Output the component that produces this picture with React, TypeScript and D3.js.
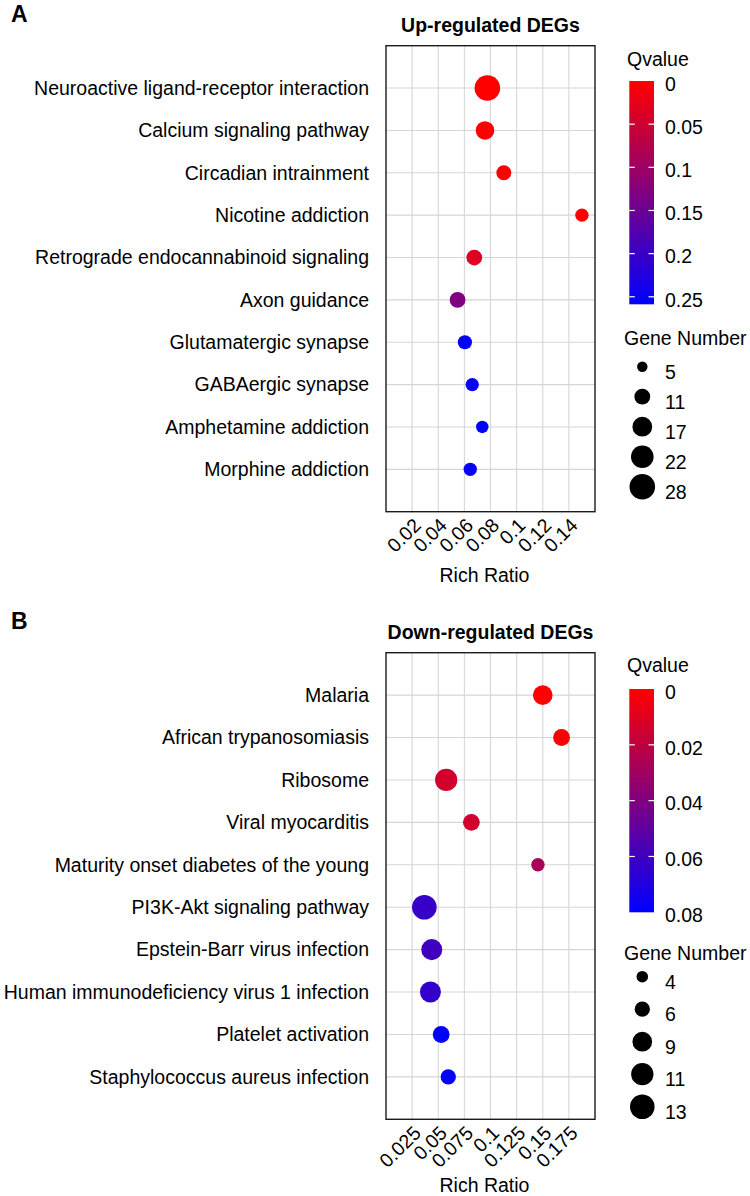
import React from "react";
import * as d3 from "d3";

// ---------- Panel A data (Up-regulated DEGs) ----------
const upTerms = [
  "Neuroactive ligand-receptor interaction",
  "Calcium signaling pathway",
  "Circadian intrainment",
  "Nicotine addiction",
  "Retrograde endocannabinoid signaling",
  "Axon guidance",
  "Glutamatergic synapse",
  "GABAergic synapse",
  "Amphetamine addiction",
  "Morphine addiction",
];
const upRichRatio = [0.0776, 0.0758, 0.0902, 0.150, 0.0676, 0.0548, 0.0604, 0.066, 0.0737, 0.0645];
const upQvalue = [0.0, 0.002, 0.004, 0.003, 0.035, 0.129, 0.255, 0.25, 0.258, 0.25];
const upGenes = [28, 15, 10, 8, 11, 11, 9, 8, 7, 8];
const upXTicks = [0.02, 0.04, 0.06, 0.08, 0.1, 0.12, 0.14];
const upQTicks = [0, 0.05, 0.1, 0.15, 0.2, 0.25];
const upSizeBreaks = [5, 11, 17, 22, 28];

// ---------- Panel B data (Down-regulated DEGs) ----------
const downTerms = [
  "Malaria",
  "African trypanosomiasis",
  "Ribosome",
  "Viral myocarditis",
  "Maturity onset diabetes of the young",
  "PI3K-Akt signaling pathway",
  "Epstein-Barr virus infection",
  "Human immunodeficiency virus 1 infection",
  "Platelet activation",
  "Staphylococcus aureus infection",
];
const downRichRatio = [0.150, 0.168, 0.0576, 0.0817, 0.1454, 0.0367, 0.0438, 0.0425, 0.0528, 0.0596];
const downQvalue = [0.0, 0.001, 0.014, 0.014, 0.028, 0.063, 0.06, 0.064, 0.08, 0.079];
const downGenes = [9, 7, 11, 7, 5, 13, 10, 10, 7, 6];
const downXTicks = [0.025, 0.05, 0.075, 0.1, 0.125, 0.15, 0.175];
const downQTicks = [0, 0.02, 0.04, 0.06, 0.08];
const downSizeBreaks = [4, 6, 9, 11, 13];

const FONT = "'Liberation Sans', Arial, Helvetica, sans-serif";

type PanelProps = {
  id: string;
  letter: string;
  title: string;
  terms: string[];
  rich: number[];
  q: number[];
  genes: number[];
  xTicks: number[];
  xDomain: [number, number];
  qTicks: number[];
  qMax: number;
  sizeBreaks: number[];
  rRange: [number, number];
  oy: number;
  plotTop: number;
  plotBottom: number;
  axisTitleY: number;
  barTop: number;
  barBottom: number;
  qTitleY: number;
  gTitleY: number;
  sizeStartY: number;
  sizeStep: number;
};

function Panel(p: PanelProps) {
  const left = 386;
  const right = 595;
  const top = p.oy + p.plotTop;
  const bottom = p.oy + p.plotBottom;
  const x = d3.scaleLinear().domain(p.xDomain).range([left, right]);
  const y = d3.scalePoint<string>().domain(p.terms).range([top, bottom]).padding(1);
  const color = d3
    .scaleLinear<string>()
    .domain([0, p.qMax])
    .range(["#ff0000", "#0000ff"])
    .interpolate(d3.interpolateRgb)
    .clamp(true);
  const size = d3.scaleSqrt().domain([p.sizeBreaks[0], p.sizeBreaks[p.sizeBreaks.length - 1]]).range(p.rRange);
  const barTop = p.oy + p.barTop;
  const barBottom = p.oy + p.barBottom;
  const qY = d3.scaleLinear().domain([0, p.qMax]).range([barTop, barBottom]);
  const barX = 629.3;
  const barW = 24.7;
  const gradStops = d3.range(0, 1.0001, 0.1);
  const fs = 19.5;

  return (
    <g fontFamily={FONT}>
      <defs>
        <linearGradient id={`grad-${p.id}`} x1="0" y1="0" x2="0" y2="1">
          {gradStops.map((t, i) => (
            <stop key={i} offset={`${t * 100}%`} stopColor={color(t * p.qMax)} />
          ))}
        </linearGradient>
      </defs>
      <text x={11} y={p.oy + 22} fontSize={23} fontWeight="bold" fill="#000">
        {p.letter}
      </text>
      <text x={(left + right) / 2} y={p.oy + 31.7} fontSize={fs} fontWeight="bold" textAnchor="middle" fill="#000">
        {p.title}
      </text>
      <rect x={left} y={top} width={right - left} height={bottom - top} fill="#fff" />
      {p.xTicks.map((t) => (
        <line key={`vx${t}`} x1={x(t)} x2={x(t)} y1={top} y2={bottom} stroke="#d6d6d6" strokeWidth={1.1} />
      ))}
      {p.terms.map((t) => (
        <line key={`hy${t}`} x1={left} x2={right} y1={y(t)} y2={y(t)} stroke="#d6d6d6" strokeWidth={1.1} />
      ))}
      {p.terms.map((t, i) => (
        <circle key={`pt${t}`} cx={x(p.rich[i])} cy={y(t)!} r={size(p.genes[i])} fill={color(p.q[i])} />
      ))}
      <rect x={left} y={top} width={right - left} height={bottom - top} fill="none" stroke="#1a1a1a" strokeWidth={1.4} />
      {p.terms.map((t) => (
        <text key={`yl${t}`} x={369} y={y(t)!} dy="0.35em" fontSize={fs} textAnchor="end" fill="#000">
          {t}
        </text>
      ))}
      {p.xTicks.map((t) => (
        <text
          key={`xl${t}`}
          transform={`translate(${x(t) + 10},${bottom + 15}) rotate(-45)`}
          fontSize={fs}
          textAnchor="end"
          fill="#000"
        >
          {String(+t.toFixed(4))}
        </text>
      ))}
      <text x={(left + right) / 2 - 6} y={p.oy + p.axisTitleY} fontSize={fs} textAnchor="middle" fill="#000">
        Rich Ratio
      </text>
      <text x={627} y={p.oy + p.qTitleY} dy="0.35em" fontSize={fs} fill="#000">
        Qvalue
      </text>
      <rect x={barX} y={barTop} width={barW} height={barBottom - barTop} fill={`url(#grad-${p.id})`} />
      {p.qTicks.map((t) => {
        const yy = qY(t);
        const inside = yy > barTop + 2 && yy < barBottom - 2;
        return (
          <g key={`qt${t}`}>
            {inside && (
              <>
                <line x1={barX} x2={barX + 5.5} y1={yy} y2={yy} stroke="#fff" strokeWidth={1.2} />
                <line x1={barX + barW - 5.5} x2={barX + barW} y1={yy} y2={yy} stroke="#fff" strokeWidth={1.2} />
              </>
            )}
            <text x={665} y={yy + 3} dy="0.35em" fontSize={fs} fill="#000">
              {String(+t.toFixed(4))}
            </text>
          </g>
        );
      })}
      <text x={624} y={p.oy + p.gTitleY} dy="0.35em" fontSize={fs} fill="#000">
        Gene Number
      </text>
      {p.sizeBreaks.map((b, i) => {
        const cy = p.oy + p.sizeStartY + i * p.sizeStep;
        return (
          <g key={`sb${b}`}>
            <circle cx={642.3} cy={cy} r={size(b)} fill="#000" />
            <text x={665} y={cy + 5} dy="0.35em" fontSize={fs} fill="#000">
              {b}
            </text>
          </g>
        );
      })}
    </g>
  );
}

export default function App() {
  return (
    <svg
      width={750}
      height={1196}
      viewBox="0 0 750 1196"
      style={{ position: "absolute", left: 0, top: 0, background: "#fff" }}
    >
      <rect x={0} y={0} width={750} height={1196} fill="#fff" />
      <Panel
        id="up"
        letter="A"
        title="Up-regulated DEGs"
        terms={upTerms}
        rich={upRichRatio}
        q={upQvalue}
        genes={upGenes}
        xTicks={upXTicks}
        xDomain={[0, 0.16]}
        qTicks={upQTicks}
        qMax={0.2587}
        sizeBreaks={upSizeBreaks}
        rRange={[5.2, 12.8]}
        oy={0}
        plotTop={45.7}
        plotBottom={511.7}
        axisTitleY={582}
        barTop={81}
        barBottom={304.3}
        qTitleY={59.3}
        gTitleY={338.3}
        sizeStartY={366.7}
        sizeStep={30}
      />
      <Panel
        id="down"
        letter="B"
        title="Down-regulated DEGs"
        terms={downTerms}
        rich={downRichRatio}
        q={downQvalue}
        genes={downGenes}
        xTicks={downXTicks}
        xDomain={[0, 0.2]}
        qTicks={downQTicks}
        qMax={0.08}
        sizeBreaks={downSizeBreaks}
        rRange={[5.8, 12.3]}
        oy={607}
        plotTop={45.7}
        plotBottom={512.3}
        axisTitleY={585}
        barTop={82}
        barBottom={305.3}
        qTitleY={58}
        gTitleY={346.3}
        sizeStartY={369.7}
        sizeStep={32.5}
      />
    </svg>
  );
}
